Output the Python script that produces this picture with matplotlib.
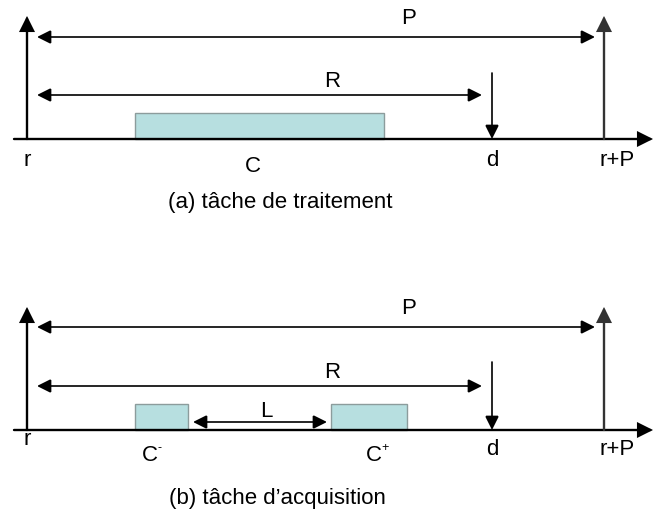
import matplotlib
matplotlib.use("Agg")
import matplotlib.pyplot as plt
from matplotlib.patches import Rectangle

plt.rcParams['font.family'] = ['Liberation Sans', 'DejaVu Sans']

# Timeline positions (horizontal units)
t_r = 27
t_d = 492
t_rP = 604
t_start_span = 37
t_P_end = 595
t_R_end = 482
axis_x0, axis_x1 = 14, 653

# Panel baselines
base_y = [140, 431]
captions = ["(a) tâche de traitement", "(b) tâche d\u2019acquisition"]
caption_x = [280, 277]
caption_y = [208, 504]

# Task blocks per panel: (start, end)
blocks = [[(135, 384)], [(135, 188), (331, 407)]]
block_h = 26
block_labels = [[("C", 253, "")], [("C", 150, "-"), ("C", 374, "+")]]

# L arrow in panel b
L_span = (193, 327)

fs = 16
lw_thin = 1.2
lw_thick = 1.7
col_fill = '#b7dfe0'
col_edge = '#8c9c9c'

fig = plt.figure(figsize=(6.56, 5.10), dpi=100)
ax = fig.add_axes([0, 0, 1, 1])
ax.set_xlim(0, 656)
ax.set_ylim(510, 0)
ax.axis('off')

def arrow(x0, y0, x1, y1, style='-|>', lw=lw_thin, color='black', ms=21):
    ax.annotate('', xy=(x1, y1), xytext=(x0, y0),
                arrowprops=dict(arrowstyle=style, lw=lw, color=color,
                                shrinkA=0, shrinkB=0, mutation_scale=ms,
                                joinstyle='miter'))

for i, by in enumerate(base_y):
    # blocks
    for (a, b) in blocks[i]:
        ax.add_patch(Rectangle((a, by - block_h), b - a, block_h,
                               facecolor=col_fill, edgecolor=col_edge, lw=1.0, zorder=2))
    # baseline
    arrow(axis_x0, by, axis_x1, by, lw=lw_thick, ms=22)
    # vertical arrows at r and r+P
    top = by - 123
    arrow(t_r, by, t_r, top, lw=lw_thick, ms=22)
    arrow(t_rP, by, t_rP, top, lw=lw_thick, color='#333333', ms=22)
    # P and R spans
    yP = by - 102 if i == 0 else by - 103
    yR = by - 44
    arrow(t_start_span, yP, t_P_end, yP, style='<|-|>')
    arrow(t_start_span, yR, t_R_end, yR, style='<|-|>')
    ax.text(409, yP - 14, "P", fontsize=fs, ha='center', va='baseline')
    ax.text(332, yR - 9, "R", fontsize=fs, ha='center', va='baseline')
    # deadline arrow
    arrow(t_d, by - 66 if i == 0 else by - 68, t_d, by, lw=lw_thin)
    # labels under the axis
    ax.text(t_r, by + 26 if i == 0 else by + 14, "r", fontsize=fs, ha='center', va='baseline')
    ax.text(t_d, by + 26 if i == 0 else by + 24, "d", fontsize=fs, ha='center', va='baseline')
    ax.text(617, by + 26 if i == 0 else by + 24, "r+P", fontsize=fs, ha='center', va='baseline')
    for (lab, x, sup) in block_labels[i]:
        yy = by + 32 if i == 0 else by + 30
        ax.text(x, yy, lab, fontsize=fs, ha='center', va='baseline')
        if sup:
            ax.text(x + 7, yy - 10, sup, fontsize=9, ha='left', va='baseline')
    ax.text(caption_x[i], caption_y[i], captions[i], fontsize=fs, ha='center', va='baseline')

# L span in panel b
yL = base_y[1] - 8
arrow(L_span[0], yL, L_span[1], yL, style='<|-|>')
ax.text(266, base_y[1] - 14, "L", fontsize=fs, ha='center', va='baseline')

fig.savefig("out.png", dpi=100)
